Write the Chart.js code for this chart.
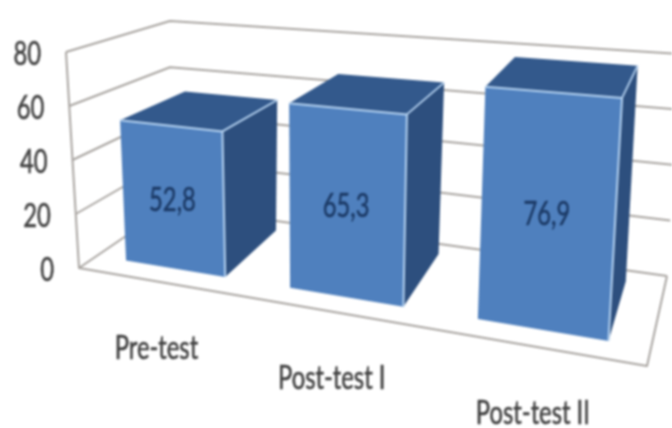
<!DOCTYPE html>
<html>
<head>
<meta charset="utf-8">
<script src="https://cdn.jsdelivr.net/npm/chart.js@4"></script>
<style>
    html, body { margin: 0; padding: 0; background: #fff; }
    canvas { display: block; filter: blur(0.8px); }
</style>
</head>
<body>
<canvas id="chart" width="672" height="428"></canvas>
<script>
const categories = ['Pre-test', 'Post-test I', 'Post-test II'];
const scores = [52.8, 65.3, 76.9];
const yMin = 0;
const yMax = 80;
const yStep = 20;

// corners of the 3D box on screen, [x, y]
const box = {
    floor: { fl: [79, 268], fr: [647, 366], bl: [170, 206], br: [667, 276] },
    roof:  { fl: [66, 52],  fr: [664, 101], bl: [170, 21],  br: [680, 54] }
};
const barFront = 0.2;
const barBack = 0.88;

function mix(a, b, k) {
    return [a[0] + (b[0] - a[0]) * k, a[1] + (b[1] - a[1]) * k];
}

// t: across the categories, v: up the value axis, d: into the chart (all 0..1)
function project(t, v, d) {
    const u = t / (1.23 - 0.23 * t); // bars further right come closer, so they get wider
    const plane = (p) => mix(mix(p.fl, p.fr, u), mix(p.bl, p.br, u), d);
    return mix(plane(box.floor), plane(box.roof), v);
}

function face(ctx, points, fill) {
    ctx.beginPath();
    points.forEach((p, i) => i ? ctx.lineTo(p[0], p[1]) : ctx.moveTo(p[0], p[1]));
    ctx.closePath();
    ctx.fillStyle = fill;
    ctx.fill();
}

function line(ctx, points, color, width) {
    ctx.beginPath();
    points.forEach((p, i) => i ? ctx.lineTo(p[0], p[1]) : ctx.moveTo(p[0], p[1]));
    ctx.strokeStyle = color;
    ctx.lineWidth = width;
    ctx.lineJoin = 'round';
    ctx.stroke();
}

// Calibri-like narrow text
function label(ctx, text, x, y, align, color) {
    ctx.save();
    ctx.translate(x, y);
    ctx.scale(0.82, 1.1);
    ctx.font = '29px Lato, "Liberation Sans", sans-serif';
    ctx.fillStyle = color;
    ctx.strokeStyle = color;
    ctx.lineWidth = 0.5;
    ctx.textAlign = align;
    ctx.textBaseline = 'middle';
    ctx.fillText(text, 0, 0);
    ctx.strokeText(text, 0, 0);
    ctx.restore();
}

const box3d = {
    id: 'box3d',
    beforeDatasetDraw() {
        return false; // the flat bars are replaced by the blocks below
    },
    beforeDatasetsDraw(chart) {
        const ctx = chart.ctx;
        const yScale = chart.scales.y;
        const lineColor = '#a8a4a0';
        const toV = (value) => (yScale.getPixelForValue(yMin) - yScale.getPixelForValue(value)) /
            (yScale.getPixelForValue(yMin) - yScale.getPixelForValue(yMax));

        // walls and floor
        yScale.ticks.forEach((tick) => {
            const v = toV(tick.value);
            line(ctx, [project(0, v, 0), project(0, v, 1), project(1, v, 1)], lineColor, 2);
        });
        line(ctx, [project(0, 1, 0), project(0, 0, 0), project(1, 0, 0), project(1, 0, 1)], lineColor, 2);

        yScale.ticks.forEach((tick) => {
            const v = toV(tick.value);
            const p = project(0, v, 0);
            label(ctx, tick.label, p[0] - 25, p[1] + 3, 'right', '#404040');
        });
    },
    afterDatasetsDraw(chart) {
        const ctx = chart.ctx;
        const area = chart.chartArea;
        const meta = chart.getDatasetMeta(0);
        const edge = '#b5d2f0';

        meta.data.forEach((bar, i) => {
            const t0 = (bar.x - bar.width / 2 - area.left) / area.width;
            const t1 = (bar.x + bar.width / 2 - area.left) / area.width;
            const v = (bar.base - bar.y) / area.height;
            const f = barFront;
            const b = barBack;

            face(ctx, [project(t1, 0, f), project(t1, v, f), project(t1, v, b), project(t1, 0, b)], '#2d4f7e');
            face(ctx, [project(t0, v, f), project(t1, v, f), project(t1, v, b), project(t0, v, b)], '#33598c');
            face(ctx, [project(t0, 0, f), project(t1, 0, f), project(t1, v, f), project(t0, v, f)], '#4f80be');
            line(ctx, [project(t0, v, f), project(t1, v, f), project(t1, 0, f)], edge, 2);
            line(ctx, [project(t1, v, f), project(t1, v, b)], edge, 1.8);

            const mid = project((t0 + t1) / 2, v / 2, f);
            label(ctx, String(scores[i]).replace('.', ','), mid[0], mid[1] + 4, 'center', '#1c3a66');

            const foot = project((t0 + t1) / 2, 0, 0);
            label(ctx, categories[i], foot[0] - 2, foot[1] + 67, 'center', '#404040');
        });
    }
};

new Chart(document.getElementById('chart'), {
    type: 'bar',
    data: {
        labels: categories,
        datasets: [{ data: scores, barPercentage: 0.62, categoryPercentage: 1 }]
    },
    options: {
        responsive: false,
        animation: false,
        devicePixelRatio: 1,
        layout: { padding: { left: 80, right: 40, top: 50, bottom: 150 } },
        plugins: { legend: { display: false }, tooltip: { enabled: false } },
        scales: {
            x: {
                grid: { display: false },
                border: { display: false },
                ticks: { display: false }
            },
            y: {
                min: yMin,
                max: yMax,
                grid: { display: false },
                border: { display: false },
                ticks: { display: false, stepSize: yStep }
            }
        }
    },
    plugins: [box3d]
});
</script>
</body>
</html>
